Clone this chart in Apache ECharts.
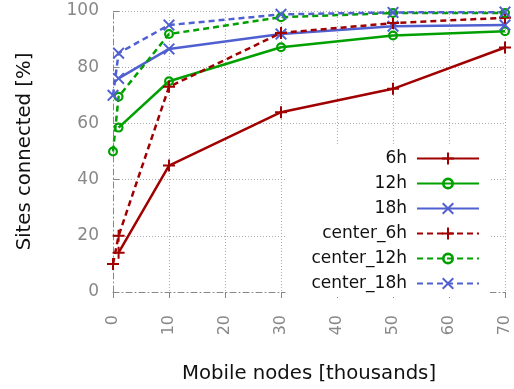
<!DOCTYPE html>
<html>
<head>
<meta charset="utf-8">
<script src="https://cdn.jsdelivr.net/npm/echarts@6/dist/echarts.min.js"></script>
<style>
  html, body { margin: 0; padding: 0; background: #fff; }
  #chart { width: 514px; height: 389px; }
</style>
</head>
<body>
<div id="chart"></div>
<script>
// Mobile nodes (thousands) at which each run was measured
const nodesRun = [1, 10, 30, 50, 70];
const nodesCenter = [0, 1, 10, 30, 50, 70];

// Share of sites connected [%]
const run6h = [14, 45, 64, 72.3, 87];
const run12h = [58.5, 75, 87.1, 91.3, 92.8];
const run18h = [76, 86.5, 91.8, 94.6, 95];
const center6h = [10, 20, 73, 92.2, 95.7, 97.6];
const center12h = [50, 69.5, 91.8, 97.8, 99.3, 99.3];
const center18h = [70, 85, 95, 98.8, 99.5, 99.6];

const seriesNames = ['6h', '12h', '18h', 'center_6h', 'center_12h', 'center_18h'];

const FONT = 'DejaVu Sans';
const RED = '#a00000', GREEN = '#00a000', BLUE = '#5060d0';

// gnuplot-like point shapes
const PLUS = 'path://M5,0H7V5H12V7H7V12H5V7H0V5H5Z';
const CROSS = 'path://M0,1.4L1.4,0L6,4.6L10.6,0L12,1.4L7.4,6L12,10.6L10.6,12L6,7.4L1.4,12L0,10.6L4.6,6Z';
const RING = 'path://M0,5A5,5 0 1 1 10,5A5,5 0 1 1 0,5ZM2.2,5A2.8,2.8 0 1 0 7.8,5A2.8,2.8 0 1 0 2.2,5Z';

function pairs(xs, ys) {
  return xs.map((x, i) => [x, ys[i]]);
}

function makeSeries(name, xs, ys, color, symbol, size, dashed) {
  return {
    name: name,
    type: 'line',
    data: pairs(xs, ys),
    symbol: symbol,
    symbolSize: size,
    symbolKeepAspect: true,
    showAllSymbol: true,
    itemStyle: { color: color },
    lineStyle: { color: color, width: 2.5, type: dashed ? [6, 4] : 'solid' },
    emphasis: { disabled: true },
    animation: false
  };
}

const chart = echarts.init(document.getElementById('chart'));

chart.setOption({
  backgroundColor: '#fff',
  animation: false,
  grid: { left: 113, right: 9, top: 11, bottom: 96, containLabel: false },
  xAxis: {
    type: 'value',
    min: 0, max: 70, interval: 10,
    name: 'Mobile nodes [thousands]',
    nameLocation: 'middle',
    nameGap: 72,
    nameTextStyle: { fontFamily: FONT, fontSize: 19.7, color: '#111' },
    axisLine: { show: true, onZero: false, lineStyle: { color: '#888', width: 1, type: [6, 3, 1, 3] } },
    axisTick: { show: true, inside: false, length: 6, lineStyle: { color: '#888', width: 1 } },
    axisLabel: { rotate: 90, margin: 23, fontFamily: FONT, fontSize: 16, color: '#888' },
    splitLine: { show: true, showMinLine: false, lineStyle: { color: '#aaa', width: 1, type: [1, 2] } }
  },
  yAxis: {
    type: 'value',
    min: 0, max: 100, interval: 20,
    name: 'Sites connected [%]',
    nameLocation: 'middle',
    nameGap: 78,
    nameTextStyle: { fontFamily: FONT, fontSize: 19.7, color: '#111' },
    axisLine: { show: true, onZero: false, lineStyle: { color: '#888', width: 1, type: [6, 3, 1, 3] } },
    axisTick: { show: true, inside: true, length: 6, lineStyle: { color: '#888', width: 1 } },
    axisLabel: { margin: 14, fontFamily: FONT, fontSize: 17, color: '#888' },
    splitLine: { show: true, showMinLine: false, lineStyle: { color: '#aaa', width: 1, type: [1, 2] } }
  },
  legend: {
    data: seriesNames,
    orient: 'vertical',
    right: 24,
    top: 145,
    align: 'right',
    itemWidth: 62,
    itemHeight: 15,
    itemGap: 8,
    backgroundColor: '#fff',
    padding: [5, 10, 5, 26],
    selectedMode: false,
    textStyle: { fontFamily: FONT, fontSize: 17, color: '#111', padding: [0, 5, 0, 0] }
  },
  series: [
    makeSeries(seriesNames[0], nodesRun, run6h, RED, PLUS, 12, false),
    makeSeries(seriesNames[1], nodesRun, run12h, GREEN, RING, 10, false),
    makeSeries(seriesNames[2], nodesRun, run18h, BLUE, CROSS, 12, false),
    makeSeries(seriesNames[3], nodesCenter, center6h, RED, PLUS, 12, true),
    makeSeries(seriesNames[4], nodesCenter, center12h, GREEN, RING, 10, true),
    makeSeries(seriesNames[5], nodesCenter, center18h, BLUE, CROSS, 12, true)
  ]
});
</script>
</body>
</html>
